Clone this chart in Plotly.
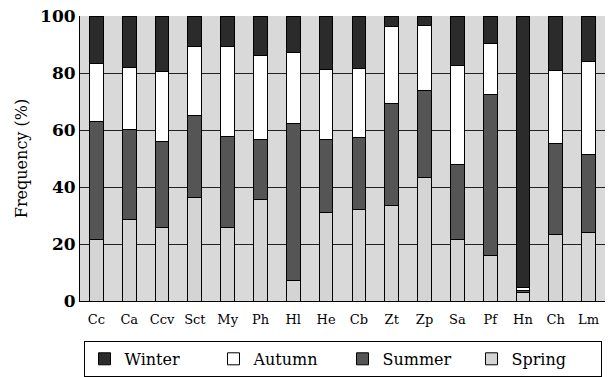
import plotly.graph_objects as go

species = ["Cc", "Ca", "Ccv", "Sct", "My", "Ph", "Hl", "He", "Cb", "Zt", "Zp", "Sa", "Pf", "Hn", "Ch", "Lm"]
spring = [21.6, 28.6, 25.9, 36.4, 25.9, 35.5, 7.2, 30.9, 32.1, 33.5, 43.2, 21.6, 15.8, 3.0, 23.3, 23.9]
summer = [41.3, 31.7, 30.1, 28.6, 31.9, 21.1, 55.2, 25.7, 25.3, 35.7, 30.7, 26.2, 56.8, 0.6, 31.9, 27.4]
autumn = [20.5, 21.5, 24.7, 24.3, 31.5, 29.4, 24.9, 24.7, 24.3, 27.1, 22.7, 34.7, 17.6, 1.0, 25.7, 32.9]
winter = [16.6, 18.2, 19.3, 10.7, 10.7, 14.0, 12.7, 18.7, 18.3, 3.7, 3.4, 17.5, 9.8, 95.4, 19.1, 15.8]

series = [
    ("Spring", spring, "#d4d4d4"),
    ("Summer", summer, "#555555"),
    ("Autumn", autumn, "#ffffff"),
    ("Winter", winter, "#2b2b2b"),
]

font_family = "DejaVu Serif, Liberation Serif, serif"

fig = go.Figure()
for name, vals, col in series:
    fig.add_trace(go.Bar(
        x=species, y=vals, name=name,
        marker=dict(color=col, line=dict(color="#000000", width=1)),
        width=0.42,
    ))

fig.update_layout(
    barmode="stack",
    width=611, height=377,
    margin=dict(l=80, r=6, t=16, b=76, autoexpand=False),
    paper_bgcolor="white",
    plot_bgcolor="#d9d9d9",
    font=dict(family=font_family, color="black"),
    showlegend=True,
    legend=dict(
        orientation="h", traceorder="reversed",
        x=0.5, xanchor="center", y=-0.14, yanchor="top",
        bordercolor="black", borderwidth=1,
        font=dict(size=16, family=font_family),
        entrywidth=84, entrywidthmode="pixels",
        itemwidth=30,
    ),
)
fig.update_xaxes(
    showline=True, linecolor="black", linewidth=1,
    tickfont=dict(size=13, family=font_family),
    ticks="", ticklabelstandoff=6, range=[-0.5, 15.5],
)
fig.update_yaxes(
    range=[0, 100], dtick=20,
    showgrid=True, gridcolor="#222222", gridwidth=1,
    showline=True, linecolor="black", linewidth=1,
    tickfont=dict(size=17, family=font_family, weight="bold"),
    title=dict(text="Frequency (%)", font=dict(size=16, family=font_family), standoff=8),
    zeroline=False,
)

fig.write_html("out.html")
